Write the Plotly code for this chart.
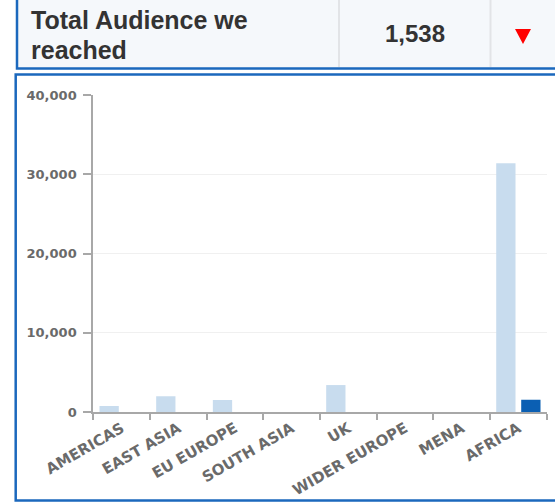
import plotly.graph_objects as go

# Audience figures by region
regions = ["AMERICAS", "EAST ASIA", "EU EUROPE", "SOUTH ASIA", "UK",
           "WIDER EUROPE", "MENA", "AFRICA"]
target_audience = [750, 2000, 1500, 0, 3400, 0, 0, 31400]
reached_audience = [0, 0, 0, 0, 0, 0, 0, 1538]

total_reached = sum(reached_audience)
header_label = ["Total Audience we", "reached"]

W, H = 555, 502


def px(x):
    return x / W


def py(y):
    return 1 - y / H


BLUE = "#1b68bd"
AXIS = "#a8a8a8"
TICK_TXT = "#6a6a6a"

fig = go.Figure()
fig.add_trace(go.Bar(x=regions, y=target_audience, name="Target",
                     marker=dict(color="#c8dcee", line=dict(width=0))))
fig.add_trace(go.Bar(x=regions, y=reached_audience, name="Reached",
                     marker=dict(color="#0b5fb3", line=dict(width=0))))

shapes = [
    # header row background and borders
    dict(type="rect", xref="paper", yref="paper", x0=px(17), x1=px(600),
         y0=py(68.5), y1=py(-5), fillcolor="#f5f8fb",
         line=dict(color=BLUE, width=2.5), layer="below"),
    # cell separators
    dict(type="line", xref="paper", yref="paper", x0=px(339), x1=px(339),
         y0=py(0), y1=py(67), line=dict(color="#e2e4e7", width=2)),
    dict(type="line", xref="paper", yref="paper", x0=px(490.5), x1=px(490.5),
         y0=py(0), y1=py(67), line=dict(color="#e2e4e7", width=2)),
    # chart panel border
    dict(type="rect", xref="paper", yref="paper", x0=px(15.7), x1=px(600),
         y0=py(500.5), y1=py(74.5), fillcolor="rgba(0,0,0,0)",
         line=dict(color=BLUE, width=2.5), layer="below"),
    # down indicator
    dict(type="path", xref="paper", yref="paper",
         path=f"M {px(515)} {py(29)} L {px(531)} {py(29)} L {px(523)} {py(44)} Z",
         fillcolor="#ff0000", line=dict(width=0)),
]

annotations = [
    dict(text=header_label[0], xref="paper", yref="paper", x=px(29), y=py(20.5),
         xanchor="left", yanchor="middle", showarrow=False,
         font=dict(family="Liberation Sans", size=25, color="#333333", weight="bold")),
    dict(text=header_label[1], xref="paper", yref="paper", x=px(29), y=py(49.5),
         xanchor="left", yanchor="middle", showarrow=False,
         font=dict(family="Liberation Sans", size=25, color="#333333", weight="bold")),
    dict(text=f"{total_reached:,}", xref="paper", yref="paper", x=px(415), y=py(33.5),
         xanchor="center", yanchor="middle", showarrow=False,
         font=dict(family="Liberation Sans", size=24, color="#333333", weight="bold")),
]

fig.update_layout(
    width=W, height=H,
    margin=dict(l=0, r=0, t=0, b=0),
    paper_bgcolor="white", plot_bgcolor="white",
    template="none",
    showlegend=False,
    barmode="group", bargap=0.118, bargroupgap=0.228,
    shapes=shapes, annotations=annotations,
    xaxis=dict(domain=[px(93.3), px(546.7)], type="category",
               showline=True, linecolor=AXIS, linewidth=2,
               ticks="outside", tickson="boundaries", ticklen=6, tickwidth=2,
               tickcolor=AXIS, tickangle=-30, showgrid=False, automargin=False,
               tickfont=dict(family="DejaVu Sans", size=15, color=TICK_TXT, weight="bold")),
    yaxis=dict(domain=[py(412), py(95)], range=[0, 40000], dtick=10000,
               tickformat=",d", showline=True, linecolor=AXIS, linewidth=2,
               ticks="outside", ticklen=8, tickwidth=2, tickcolor=AXIS,
               showgrid=True, gridcolor="#f0f0f0", gridwidth=1, zeroline=False,
               automargin=False, ticklabelstandoff=4,
               tickfont=dict(family="DejaVu Sans", size=13, color=TICK_TXT, weight="bold")),
)

fig.write_html("out.html")
